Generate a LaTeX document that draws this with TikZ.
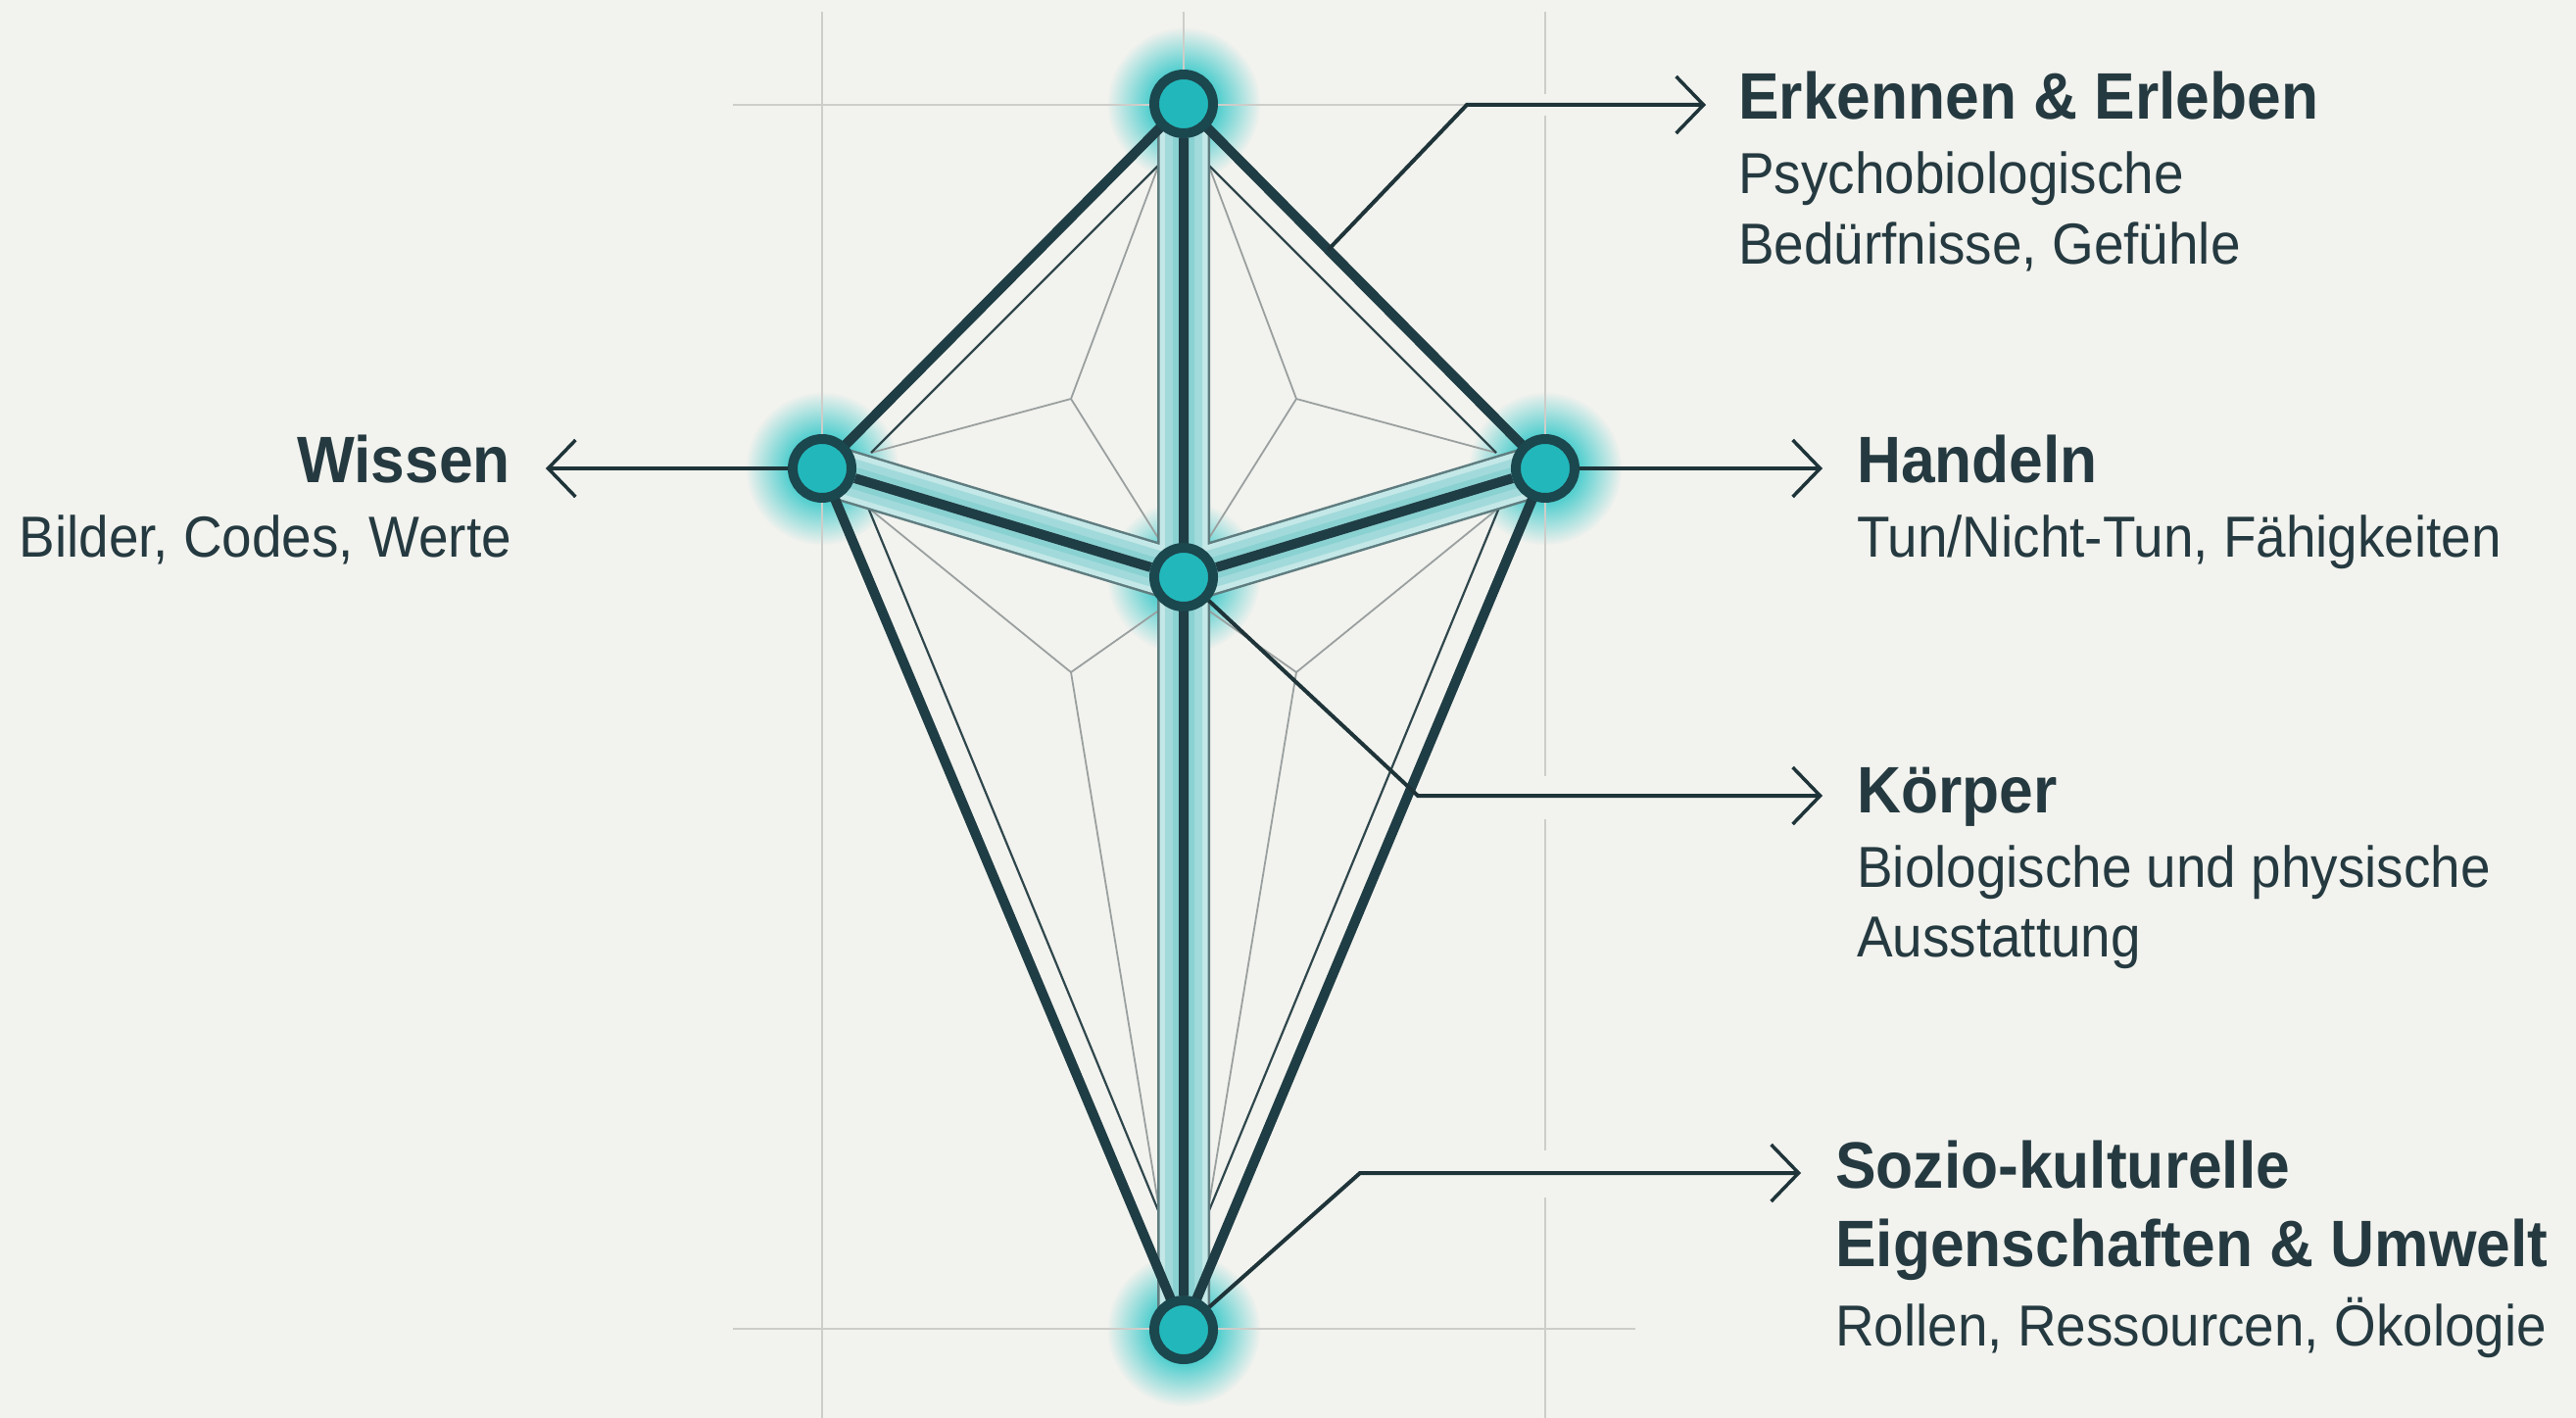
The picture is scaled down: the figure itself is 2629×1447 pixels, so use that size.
\documentclass[tikz,border=0pt]{standalone}
\usepackage{fontspec}
\setmainfont{Liberation Sans}
\newfontfamily\lblfont[FakeStretch=0.93]{Liberation Sans}
\usetikzlibrary{arrows.meta,calc,fadings}
\definecolor{bgc}{HTML}{F2F2EE}
\definecolor{gridc}{HTML}{CDCDC9}
\definecolor{darkc}{HTML}{1F3D44}
\definecolor{nodeb}{HTML}{1B474E}
\definecolor{nodef}{HTML}{22B8BB}
\definecolor{glowc}{HTML}{35C8C9}
\definecolor{bandout}{HTML}{5F7D80}
\definecolor{bandlt}{HTML}{C4E8E7}
\definecolor{bandmd}{HTML}{A2DADB}
\definecolor{bandin}{HTML}{8AD1D2}
\definecolor{starc}{HTML}{9AA09F}
\definecolor{innerc}{HTML}{2F474C}
\definecolor{txtc}{HTML}{253A40}
\definecolor{connc}{HTML}{1E3439}
\pgfdeclareradialshading{glowshade}{\pgfpointorigin}{color(0bp)=(white!85!black); color(11bp)=(white!85!black); color(25bp)=(black); color(50bp)=(black)}
\pgfdeclarefading{glowfade}{\pgfuseshading{glowshade}}
\pgfdeclarelayer{back}
\pgfsetlayers{back,main}
\begin{document}
\begin{tikzpicture}[x=1pt,y=-1pt,
  vnode/.style={circle, draw=nodeb, fill=nodef, line width=10pt, minimum size=60pt, inner sep=0pt},
  gridl/.style={draw=gridc, line width=2.5pt},
  starl/.style={draw=starc, line width=1.8pt},
  innl/.style={draw=innerc, line width=2.2pt},
  edgel/.style={draw=darkc, line width=10pt, line cap=round},
  conn/.style={draw=connc, line width=4pt, line join=miter, -{Straight Barb[length=28pt,width=58pt,line width=3.5pt]}},
  ttl/.style={font=\lblfont\bfseries\fontsize{67}{80}\selectfont, text=txtc, inner sep=0pt},
  sub/.style={font=\lblfont\fontsize{59}{70}\selectfont, text=txtc, inner sep=0pt},
]
\useasboundingbox (0,0) rectangle (2629,1447);
% main nodes
\node[vnode] (T) at (1208,106) {};
\node[vnode] (L) at (839,478) {};
\node[vnode] (R) at (1577,478) {};
\node[vnode] (C) at (1208,589) {};
\node[vnode] (B) at (1208,1357) {};
% labels
\node[ttl, anchor=base west] (erkT) at (1774,122) {Erkennen \& Erleben};
\node[sub, anchor=base west] (erkS1) at (1774,198) {Psychobiologische};
\node[sub, anchor=base west] (erkS2) at (1774,270) {Bedürfnisse, Gefühle};
\node[ttl, anchor=base east] (wisT) at (521,492) {Wissen};
\node[sub, anchor=base east] (wisS) at (522,568) {Bilder, Codes, Werte};
\node[ttl, anchor=base west] (hanT) at (1895,492) {Handeln};
\node[sub, anchor=base west] (hanS) at (1895,568) {Tun/Nicht-Tun, Fähigkeiten};
\node[ttl, anchor=base west] (korT) at (1895,829) {Körper};
\node[sub, anchor=base west] (korS1) at (1895,905) {Biologische und physische};
\node[sub, anchor=base west] (korS2) at (1895,976) {Ausstattung};
\node[ttl, anchor=base west] (sozT1) at (1873,1212) {Sozio-kulturelle};
\node[ttl, anchor=base west] (sozT2) at (1873,1292) {Eigenschaften \& Umwelt};
\node[sub, anchor=base west] (sozS) at (1873,1373) {Rollen, Ressourcen, Ökologie};
\begin{pgfonlayer}{back}
\fill[bgc] (0,0) rectangle (2629,1447);
% glows
\foreach \n in {T,L,R,C,B} \fill[glowc, path fading=glowfade] (\n) circle (78pt);
% grid
\draw[gridl] (839,12) -- (839,1447);
\draw[gridl] (1208,12) -- (T);
\draw[gridl] (1577,12) -- (1577,96) (1577,118) -- (1577,792) (1577,836) -- (1577,1174) (1577,1222) -- (1577,1447);
\draw[gridl] (748,107) -- (1497,107);
\draw[gridl] (748,1356) -- (1669,1356);
% grey star lines
\draw[starl] (1093,407) -- (889,462) (1093,407) -- (1182,170) (1093,407) -- (1184,552);
\draw[starl] (1323,407) -- (1527,462) (1323,407) -- (1234,170) (1323,407) -- (1232,552);
\draw[starl] (1093,686) -- (886,518) (1093,686) -- (1184,622) (1093,686) -- (1184,1240);
\draw[starl] (1323,686) -- (1530,518) (1323,686) -- (1232,622) (1323,686) -- (1232,1240);
% inner dark lines
\draw[innl] (889,462) -- (1182,169);
\draw[innl] (1527,462) -- (1234,169);
\draw[innl] (886,518) -- (1184,1240);
\draw[innl] (1530,518) -- (1232,1240);
% glowing bands
\foreach \w/\c in {54/bandout,49/bandlt,38/bandmd,22/bandin}{
  \draw[line width=\w pt, draw=\c] (T.center) -- (B.center) (L.center) -- (C.center) -- (R.center);
}
\draw[line width=10pt, draw=darkc] (T) -- (B) (L) -- (C) (C) -- (R);
% outer edges
\draw[edgel] (T) -- (L) (L) -- (B) (B) -- (R) (R) -- (T);
% connectors
\coordinate (e0) at ($(T)!0.4!(R)$);
\coordinate (eE) at (1497,107);
\coordinate (eTip) at (1741,107);
\draw[conn] (e0) -- (eE) -- (eTip);
\coordinate (wTip) at (557,478);
\draw[conn] (L) -- (wTip);
\coordinate (hTip) at (1860,478);
\draw[conn] (R) -- (hTip);
\coordinate (kE) at (1447,812);
\coordinate (kTip) at (1860,812);
\draw[conn] (C) -- (kE) -- (kTip);
\coordinate (sE) at (1388,1197);
\coordinate (sTip) at (1838,1197);
\draw[conn] (B) -- (sE) -- (sTip);
\end{pgfonlayer}
\end{tikzpicture}
\end{document}
